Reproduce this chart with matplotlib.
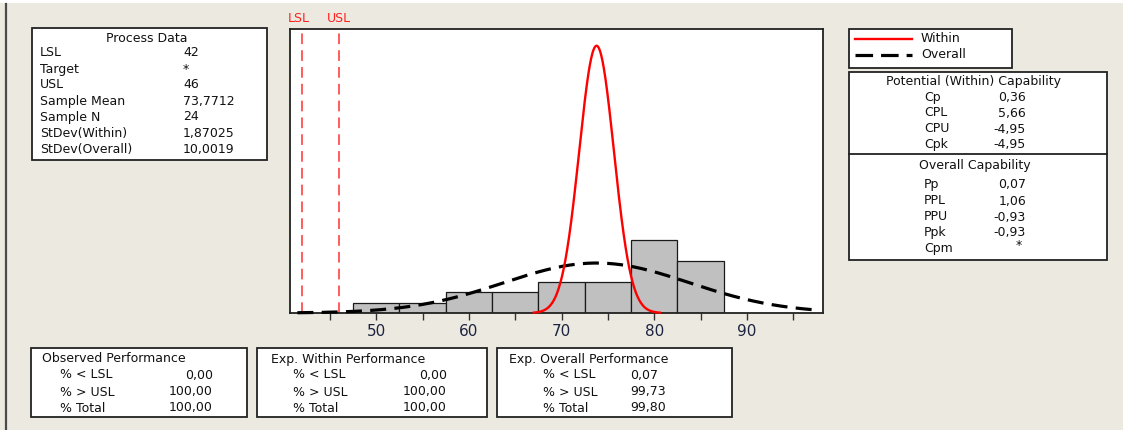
import numpy as np
import matplotlib
matplotlib.use("Agg")
import matplotlib.pyplot as plt
from matplotlib.patches import Rectangle
from matplotlib.lines import Line2D

# ==========================================
# DATA
# ==========================================
bin_centers = [50, 55, 60, 65, 70, 75, 80, 85]
bin_counts = [1, 1, 2, 2, 3, 3, 7, 5]
bin_width = 5

lsl = 42
usl = 46
sample_mean = 73.7712
sample_n = 24
stdev_within = 1.87025
stdev_overall = 10.0019

process_labels = ["LSL", "Target", "USL", "Sample Mean", "Sample N",
                  "StDev(Within)", "StDev(Overall)"]
process_values = ["42", "*", "46", "73,7712", "24", "1,87025", "10,0019"]

potential_labels = ["Cp", "CPL", "CPU", "Cpk"]
potential_values = ["0,36", "5,66", "-4,95", "-4,95"]

overall_labels = ["Pp", "PPL", "PPU", "Ppk", "Cpm"]
overall_values = ["0,07", "1,06", "-0,93", "-0,93", "*"]

perf_rows = ["% < LSL", "% > USL", "% Total"]
observed_values = ["0,00", "100,00", "100,00"]
exp_within_values = ["0,00", "100,00", "100,00"]
exp_overall_values = ["0,07", "99,73", "99,80"]

tick_major = [50, 60, 70, 80, 90]

# ==========================================
# FIGURE (pixel helpers)
# ==========================================
W, H = 1123, 430
BG = "#ece9e0"
FONT = "DejaVu Sans"
FS = 9

fig = plt.figure(figsize=(W / 100, H / 100), dpi=100)
fig.patch.set_facecolor(BG)


def fx(x):
    return x / W


def fy(y):
    return 1 - y / H


def box(x0, y0, x1, y1):
    fig.patches.append(Rectangle((fx(x0), fy(y1)), fx(x1) - fx(x0), fy(y0) - fy(y1),
                                 transform=fig.transFigure, facecolor="white",
                                 edgecolor="#222222", linewidth=1.3, zorder=1))


def txt(x, y, s, ha="left", **kw):
    fig.text(fx(x), fy(y), s, ha=ha, va="center", fontsize=kw.pop("fontsize", FS),
             family=FONT, color=kw.pop("color", "#111111"), **kw)


# window decorations
fig.patches.append(Rectangle((0, fy(3)), 1, fy(0) - fy(3), transform=fig.transFigure,
                             facecolor="white", edgecolor="none"))
fig.lines.append(Line2D([fx(6), fx(6)], [fy(4), 0], transform=fig.transFigure,
                        color="#4a4a4a", linewidth=1.6))

# ==========================================
# HISTOGRAM + CURVES
# ==========================================
ax = fig.add_axes([fx(290), fy(313), fx(823) - fx(290), fy(29) - fy(313)])
ax.set_facecolor("white")

ax.bar(bin_centers, bin_counts, width=bin_width, color="#c0c0c0",
       edgecolor="#1a1a1a", linewidth=0.9, zorder=2)

# fitted normal curves from the stated mean / stdevs, scaled to counts
scale = sample_n * bin_width
xw = np.linspace(67.0, 80.6, 300)
yw = scale * np.exp(-0.5 * ((xw - sample_mean) / stdev_within) ** 2) / (stdev_within * np.sqrt(2 * np.pi))
xo = np.linspace(41.5, 97.6, 400)
yo = scale * np.exp(-0.5 * ((xo - sample_mean) / stdev_overall) ** 2) / (stdev_overall * np.sqrt(2 * np.pi))

ax.plot(xo, yo, color="black", linewidth=2.3, dashes=(5, 2.6), zorder=3, clip_on=False)
ax.plot(xw, yw, color="#ff0000", linewidth=1.7, zorder=4, clip_on=False)

for v in (lsl, usl):
    ax.axvline(v, color="#ff3030", linewidth=1.1, dashes=(7, 4), zorder=1)

ax.set_xlim(40.7, 98.2)
ax.set_ylim(0, 27.2)
ax.set_yticks([])
ax.set_xticks(tick_major)
ax.set_xticks(np.arange(45, 98, 5), minor=True)
ax.tick_params(axis="x", which="both", direction="out", length=5, width=1,
               color="#333333", labelsize=11, labelcolor="#1c2340", pad=3)
for lab in ax.get_xticklabels():
    lab.set_family(FONT)
for s in ax.spines.values():
    s.set_color("#222222")
    s.set_linewidth(1.3)

# LSL / USL labels
txt(299, 19, "LSL", ha="center", color="#ff2020", fontsize=9)
txt(339, 19, "USL", ha="center", color="#ff2020", fontsize=9)

# ==========================================
# PROCESS DATA BOX
# ==========================================
box(32, 28, 267, 160)
txt(147, 38, "Process Data", ha="center")
for y, lab, val in zip([53, 69, 85, 101, 117, 133, 149], process_labels, process_values):
    txt(40, y, lab)
    txt(183, y, val)

# ==========================================
# LEGEND BOX
# ==========================================
box(849, 29, 1012, 68)
fig.lines.append(Line2D([fx(855), fx(912)], [fy(39), fy(39)], transform=fig.transFigure,
                        color="#ff0000", linewidth=1.7))
fig.lines.append(Line2D([fx(855), fx(912)], [fy(55), fy(55)], transform=fig.transFigure,
                        color="black", linewidth=2.3, dashes=(5.5, 2.5)))
txt(921, 39, "Within")
txt(921, 55, "Overall")

# ==========================================
# CAPABILITY BOX
# ==========================================
box(849, 72, 1107, 260)
fig.lines.append(Line2D([fx(849), fx(1107)], [fy(154), fy(154)], transform=fig.transFigure,
                        color="#222222", linewidth=1.3))
txt(974, 82, "Potential (Within) Capability", ha="center")
for y, lab, val in zip([97, 113, 129, 145], potential_labels, potential_values):
    txt(924, y, lab)
    txt(1026, y, val, ha="right")
txt(975, 165, "Overall Capability", ha="center")
for y, lab, val in zip([184, 201, 217, 232, 248], overall_labels, overall_values):
    txt(924, y, lab)
    if val == "*":
        txt(1019, y - 2, val, ha="center")
    else:
        txt(1026, y, val, ha="right")

# ==========================================
# PERFORMANCE BOXES
# ==========================================
perf_y = [375, 392, 408]

box(31, 348, 247, 417)
txt(42, 359, "Observed Performance")
for y, lab, val in zip(perf_y, perf_rows, observed_values):
    txt(60, y, lab)
    txt(213, y, val, ha="right")

box(257, 348, 487, 417)
txt(271, 359, "Exp. Within Performance")
for y, lab, val in zip(perf_y, perf_rows, exp_within_values):
    txt(293, y, lab)
    txt(447, y, val, ha="right")

box(497, 348, 732, 417)
txt(509, 359, "Exp. Overall Performance")
for y, lab, val in zip(perf_y, perf_rows, exp_overall_values):
    txt(543, y, lab)
    txt(630, y, val)

fig.savefig("out.png", dpi=100, facecolor=fig.get_facecolor())
